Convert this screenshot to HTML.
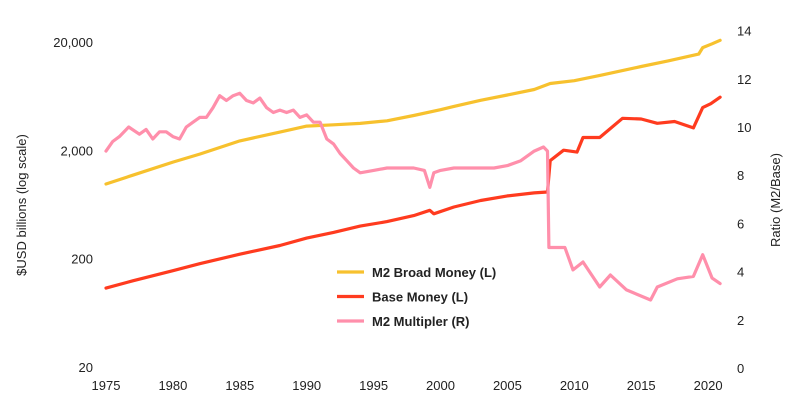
<!DOCTYPE html>
<html><head><meta charset="utf-8"><style>
body{margin:0;background:#fff;}
svg text{font-family:"Liberation Sans",sans-serif;fill:#222;}
</style></head><body>
<svg id="chart" width="789" height="409" viewBox="0 0 789 409" xmlns="http://www.w3.org/2000/svg"></svg>
<script>
const xTicks=[1975,1980,1985,1990,1995,2000,2005,2010,2015,2020];
const leftTicks=[20,200,2000,20000];
const leftTickLabels=["20","200","2,000","20,000"];
const rightTicks=[0,2,4,6,8,10,12,14];
const m2Years=[1975,1977,1980,1982,1985,1988,1990,1992,1994,1996,1998,2000,2001,2003,2005,2007,2008.2,2010,2012,2015,2017,2019.3,2019.6,2020.3,2020.9];
const m2Values=[980,1180,1560,1850,2450,2950,3350,3450,3550,3750,4200,4750,5100,5800,6500,7300,8300,8800,9900,11900,13400,15500,17800,19300,20800];
const baseYears=[1975,1977,1980,1982,1985,1988,1990,1992,1994,1996,1998,1999.2,1999.5,2001,2003,2005,2007,2008.0,2008.2,2009.2,2010.2,2010.65,2011.9,2013.6,2015,2016.2,2017.5,2018.9,2019.6,2020.2,2020.9];
const baseValues=[107,125,155,180,220,265,310,350,400,440,500,560,520,600,690,760,810,825,1610,2010,1930,2630,2630,3960,3900,3560,3700,3230,4970,5400,6200];
const multYears=[1975,1975.5,1976,1976.7,1977.5,1978,1978.5,1979,1979.5,1980,1980.5,1981,1981.5,1982,1982.5,1983,1983.5,1984,1984.5,1985,1985.5,1986,1986.5,1987,1987.5,1988,1988.5,1989,1989.5,1990,1990.5,1991,1991.5,1992,1992.5,1993,1993.5,1994,1995,1996,1997,1998,1998.8,1999.2,1999.5,2000,2001,2002,2003,2004,2005,2006,2007,2007.7,2008.0,2008.1,2009.3,2009.9,2010.65,2011.9,2012.7,2013.9,2015.7,2016.2,2017.7,2018.9,2019.6,2020.3,2020.9];
const multValues=[9.0,9.4,9.6,10.0,9.7,9.9,9.5,9.8,9.8,9.6,9.5,10.0,10.2,10.4,10.4,10.8,11.3,11.1,11.3,11.4,11.1,11.0,11.2,10.8,10.6,10.7,10.6,10.7,10.4,10.5,10.2,10.2,9.5,9.3,8.9,8.6,8.3,8.1,8.2,8.3,8.3,8.3,8.2,7.5,8.1,8.2,8.3,8.3,8.3,8.3,8.4,8.6,9.0,9.17,9.0,5.0,5.0,4.07,4.4,3.36,3.86,3.24,2.82,3.36,3.7,3.8,4.7,3.73,3.5,3.24];

const svg=document.getElementById('chart');
const NS='http://www.w3.org/2000/svg';
const x=y=>106+(y-1975)*13.38;
const yL=v=>367-108.3*Math.log10(v/20);
const yR=v=>368-24.1*v;
function mk(tag,attrs,txt){const e=document.createElementNS(NS,tag);for(const k in attrs)e.setAttribute(k,attrs[k]);if(txt!==undefined)e.textContent=txt;svg.appendChild(e);return e;}

xTicks.forEach(t=>{const e=mk('text',{x:x(t),y:390,'text-anchor':'middle','font-size':13},String(t));

});
leftTicks.forEach((t,i)=>{const e=mk('text',{x:93,y:yL(t)+5,'text-anchor':'end','font-size':13},leftTickLabels[i]);

});
rightTicks.forEach(t=>{const e=mk('text',{x:737,y:yR(t)+5,'text-anchor':'start','font-size':13},String(t));

});
let lt=mk('text',{x:0,y:0,transform:'translate(26,205) rotate(-90)','text-anchor':'middle','font-size':13},'$USD billions (log scale)');


let rt=mk('text',{x:0,y:0,transform:'translate(780,200) rotate(-90)','text-anchor':'middle','font-size':13},'Ratio (M2/Base)');



function line(ys,vs,fy,color,name){
  const d=ys.map((yr,i)=>(i?'L':'M')+x(yr).toFixed(1)+','+fy(vs[i]).toFixed(1)).join(' ');
  const p=mk('path',{d:d,fill:'none',stroke:color,'stroke-width':3.2,'stroke-linejoin':'round','stroke-linecap':'round'});
  
  
}
line(m2Years,m2Values,yL,'#f7c12e','m2-broad-money-line');
line(baseYears,baseValues,yL,'#ff3b1f','base-money-line');
line(multYears,multValues,yR,'#ff8fab','m2-multiplier-line');

const legend=[['M2 Broad Money (L)','#f7c12e'],['Base Money (L)','#ff3b1f'],['M2 Multipler (R)','#ff8fab']];
legend.forEach((l,i)=>{const yy=272+i*24.5;
  const s=mk('line',{x1:337,x2:364,y1:yy,y2:yy,stroke:l[1],'stroke-width':3.2});
  
  
  const t=mk('text',{x:372,y:yy+5,'font-size':13,'font-weight':'bold'},l[0]);
  
  
});
</script>
</body></html>
